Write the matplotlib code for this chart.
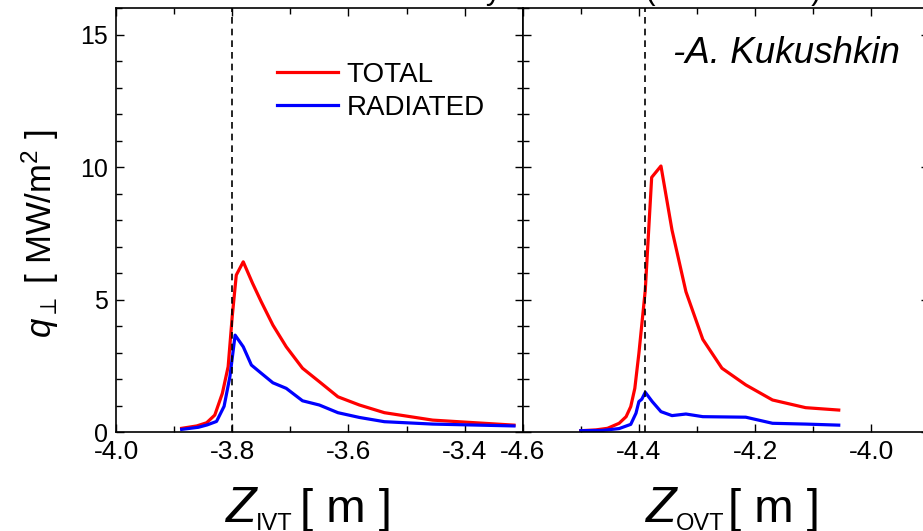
import matplotlib
matplotlib.use("Agg")
import matplotlib.pyplot as plt
from matplotlib.ticker import MultipleLocator

plt.rcParams['font.family'] = ['Liberation Sans', 'DejaVu Sans']
plt.rcParams['mathtext.fontset'] = 'custom'
plt.rcParams['mathtext.rm'] = 'Liberation Sans'
plt.rcParams['mathtext.it'] = 'Liberation Sans:italic'

# inner divertor target (IVT)
z_ivt_total = [-3.887, -3.861, -3.844, -3.830, -3.817, -3.807, -3.800, -3.793, -3.781,
               -3.765, -3.750, -3.730, -3.707, -3.679, -3.650, -3.618, -3.581, -3.538,
               -3.455, -3.315]
q_ivt_total = [0.14, 0.23, 0.35, 0.64, 1.46, 2.47, 4.36, 5.93, 6.43,
               5.62, 4.92, 4.04, 3.22, 2.41, 1.90, 1.33, 1.02, 0.73,
               0.45, 0.26]
z_ivt_rad = [-3.887, -3.858, -3.843, -3.827, -3.814, -3.804, -3.795, -3.781, -3.767,
             -3.750, -3.730, -3.707, -3.679, -3.650, -3.618, -3.581, -3.538, -3.455,
             -3.315]
q_ivt_rad = [0.10, 0.18, 0.27, 0.40, 0.97, 2.09, 3.66, 3.22, 2.53,
             2.22, 1.86, 1.65, 1.18, 1.02, 0.73, 0.55, 0.39, 0.30,
             0.23]

# outer divertor target (OVT)
z_ovt_total = [-4.500, -4.474, -4.454, -4.434, -4.422, -4.414, -4.407, -4.400, -4.389,
               -4.378, -4.362, -4.343, -4.319, -4.290, -4.257, -4.216, -4.170, -4.113,
               -4.056]
q_ovt_total = [0.05, 0.08, 0.14, 0.33, 0.58, 0.96, 1.65, 2.97, 5.36,
               9.62, 10.05, 7.63, 5.30, 3.50, 2.41, 1.78, 1.21, 0.92,
               0.83]
z_ovt_rad = [-4.500, -4.463, -4.434, -4.414, -4.405, -4.400, -4.395, -4.389, -4.377,
             -4.362, -4.343, -4.319, -4.290, -4.216, -4.170, -4.113, -4.056]
q_ovt_rad = [0.05, 0.06, 0.13, 0.29, 0.71, 1.15, 1.24, 1.50, 1.15,
             0.77, 0.62, 0.68, 0.58, 0.56, 0.33, 0.30, 0.26]

sep_ivt = -3.80
sep_ovt = -4.39

W, H = 923, 531
fig = plt.figure(figsize=(9.23, 5.31), dpi=100)
ax1 = fig.add_axes([0.1257, 0.1864, 0.4406, 0.7976])
ax2 = fig.add_axes([0.5663, 0.1864, 0.4406, 0.7976])

ax1.plot(z_ivt_total, q_ivt_total, color='#ff0000', lw=2.3, label='TOTAL')
ax1.plot(z_ivt_rad, q_ivt_rad, color='#0000ff', lw=2.3, label='RADIATED')
ax1.axvline(sep_ivt, color='black', ls=(0, (4, 3)), lw=1.2)
ax1.set_xlim(-4.0, -3.3)

ax2.plot(z_ovt_total, q_ovt_total, color='#ff0000', lw=2.3)
ax2.plot(z_ovt_rad, q_ovt_rad, color='#0000ff', lw=2.3)
ax2.axvline(sep_ovt, color='black', ls=(0, (4, 3)), lw=1.2)
ax2.set_xlim(-4.6, -3.9)

for ax in (ax1, ax2):
    ax.set_ylim(0, 16)
    ax.xaxis.set_major_locator(MultipleLocator(0.2))
    ax.xaxis.set_minor_locator(MultipleLocator(0.1))
    ax.yaxis.set_major_locator(MultipleLocator(5))
    ax.yaxis.set_minor_locator(MultipleLocator(1))
    ax.tick_params(which='both', direction='in', top=True, right=True, left=True,
                   width=1.0)
    ax.tick_params(which='major', length=6, pad=6)
    ax.tick_params(which='minor', length=4)
    ax.tick_params(axis='x', labelsize=19)
    ax.tick_params(axis='y', labelsize=18)
    for s in ax.spines.values():
        s.set_linewidth(1.2)
    ax.xaxis.set_major_formatter(plt.FuncFormatter(lambda v, p: f"{v:.1f}"))

ax1.yaxis.set_major_formatter(plt.FuncFormatter(lambda v, p: f"{v:.0f}"))
ax2.tick_params(labelleft=False)

ax1.legend(loc='upper left', bbox_to_anchor=(263 / W, 1 - 48 / H),
           bbox_transform=fig.transFigure, frameon=False, fontsize=20,
           handlelength=2.2, handletextpad=0.3, labelspacing=0.25, borderpad=0)

# y label
fig.text(40 / W, 1 - 234 / H, r"$q_{\perp}$ [ MW/m$^2$ ]", rotation=90,
         ha='center', va='center', fontsize=25)

# x labels built from pieces (big Z, small subscript, unit)
def xlabel(x0, sub, sub_dx, unit_dx):
    fig.text(x0 / W, 1 - 522 / H, "Z", style='italic', fontsize=36,
             ha='left', va='baseline')
    fig.text((x0 + sub_dx) / W, 1 - 530 / H, sub, fontsize=17,
             ha='left', va='baseline')
    fig.text((x0 + unit_dx) / W, 1 - 522 / H, "[ m ]", fontsize=34,
             ha='left', va='baseline')

xlabel(226, "IVT", 30, 74)
xlabel(646, "OVT", 30, 82)

fig.text(673 / W, 1 - 63 / H, "-A. Kukushkin", style='italic', fontsize=26.5,
         ha='left', va='baseline')
# top title, mostly cut off by the figure edge
fig.text(315 / W, 1.0 + 1 / H, "Heat loads by SOLPS 4 (ITER-FEAT)",
         fontsize=22, ha='left', va='baseline')

fig.savefig('out.png', dpi=100)
